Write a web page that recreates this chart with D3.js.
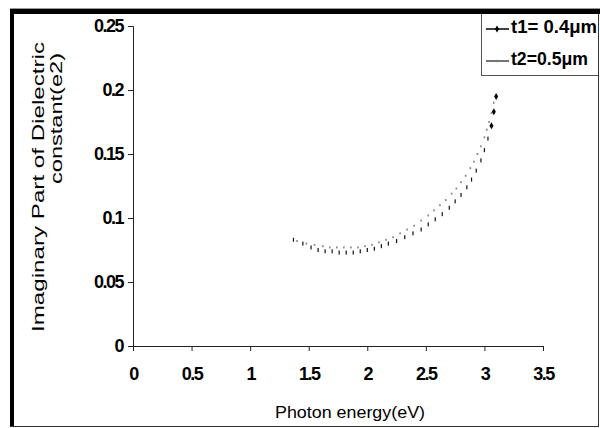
<!DOCTYPE html>
<html>
<head>
<meta charset="utf-8">
<script src="https://cdn.jsdelivr.net/npm/d3@7"></script>
<style>
    body { margin: 0; background: #fff; }
    svg { display: block; }
    .tick text { font-family: 'Liberation Sans', Arial, sans-serif; font-weight: bold; font-size: 18px; letter-spacing: -1.5px; fill: #000; }
</style>
</head>
<body>
<div id="chart"></div>
<script>
// photon energy (eV) and e2 values
const t1Energy = [1.37, 1.45, 1.52, 1.58, 1.64, 1.70, 1.76, 1.82, 1.88, 1.94, 2.00, 2.06, 2.12, 2.18, 2.25, 2.32, 2.39, 2.46, 2.52, 2.58, 2.64, 2.70, 2.75, 2.80, 2.85, 2.89, 2.93, 2.97, 3.00, 3.03, 3.06, 3.08, 3.10]
const t1Values = [0.083, 0.080, 0.077, 0.075, 0.074, 0.074, 0.073, 0.073, 0.073, 0.074, 0.075, 0.076, 0.078, 0.080, 0.082, 0.085, 0.088, 0.091, 0.095, 0.099, 0.103, 0.108, 0.113, 0.118, 0.124, 0.130, 0.137, 0.145, 0.153, 0.162, 0.172, 0.183, 0.195]

const t2Energy = [1.40, 1.48, 1.55, 1.62, 1.68, 1.74, 1.80, 1.86, 1.92, 1.98, 2.04, 2.10, 2.16, 2.22, 2.28, 2.34, 2.40, 2.46, 2.52, 2.57, 2.62, 2.67, 2.72, 2.76, 2.80, 2.84, 2.88, 2.91, 2.94, 2.97, 3.00, 3.02, 3.04, 3.06, 3.08]
const t2Values = [0.082, 0.080, 0.079, 0.078, 0.077, 0.077, 0.077, 0.077, 0.077, 0.078, 0.079, 0.081, 0.083, 0.085, 0.088, 0.091, 0.094, 0.098, 0.102, 0.106, 0.110, 0.114, 0.119, 0.123, 0.128, 0.133, 0.139, 0.144, 0.150, 0.156, 0.163, 0.169, 0.175, 0.182, 0.190]

const xTicks = [0, 0.5, 1, 1.5, 2, 2.5, 3, 3.5]
const yTicks = [0, 0.05, 0.1, 0.15, 0.2, 0.25]
const seriesNames = ['t1= 0.4\u03bcm', 't2=0.5\u03bcm']

const width = 600
const height = 428
const margin = { top: 26, right: 57, bottom: 82, left: 133 }
const font = "'Liberation Sans', Arial, sans-serif"

const svg = d3.select('#chart')
    .append('svg')
    .attr('width', width)
    .attr('height', height)

// outer frame
svg.append('line').attr('x1', 10).attr('x2', 600).attr('y1', 8.5).attr('y2', 8.5)
    .attr('stroke', '#999').attr('stroke-width', 1)
svg.append('line').attr('x1', 10).attr('x2', 600).attr('y1', 11.5).attr('y2', 11.5)
    .attr('stroke', '#000').attr('stroke-width', 5)
svg.append('line').attr('x1', 12).attr('x2', 12).attr('y1', 9).attr('y2', 427)
    .attr('stroke', '#000').attr('stroke-width', 4)
svg.append('line').attr('x1', 598.5).attr('x2', 598.5).attr('y1', 14).attr('y2', 427)
    .attr('stroke', '#333').attr('stroke-width', 1)
svg.append('line').attr('x1', 10).attr('x2', 599).attr('y1', 426.5).attr('y2', 426.5)
    .attr('stroke', '#333').attr('stroke-width', 1)

// scales
const x = d3.scaleLinear().domain([0, 3.5]).range([margin.left, width - margin.right])
const y = d3.scaleLinear().domain([0, 0.25]).range([height - margin.bottom, margin.top])

// axes
const xAxis = d3.axisBottom(x).tickValues(xTicks).tickSize(5).tickPadding(16)
    .tickFormat(d3.format('~g'))
const yAxis = d3.axisLeft(y).tickValues(yTicks).tickSize(5).tickPadding(5)
    .tickFormat(d3.format('~g'))

svg.append('g')
    .attr('transform', `translate(0,${y(0)})`)
    .call(xAxis)
    .call((g) => g.selectAll('path, line').attr('stroke', '#222'))

svg.append('g')
    .attr('transform', `translate(${x(0)},0)`)
    .call(yAxis)
    .call((g) => g.selectAll('path, line').attr('stroke', '#222'))

// axis titles (the picture is stretched, so fit text to its measured length)
svg.append('text')
    .attr('x', 275)
    .attr('y', 418)
    .attr('textLength', 150)
    .attr('lengthAdjust', 'spacingAndGlyphs')
    .style('font-family', font)
    .style('font-size', '17px')
    .text('Photon energy(eV)')

const yTitle = svg.append('g').attr('transform', 'rotate(-90)')
    .style('font-family', font)
    .style('font-size', '16px')
yTitle.append('text')
    .attr('x', -332).attr('y', 44)
    .attr('textLength', 290)
    .attr('lengthAdjust', 'spacingAndGlyphs')
    .text('Imaginary Part of Dielectric')
yTitle.append('text')
    .attr('x', -184).attr('y', 62)
    .attr('textLength', 131)
    .attr('lengthAdjust', 'spacingAndGlyphs')
    .text('constant(e2)')

// data points
const t1 = t1Energy.map((e, i) => ({ e, v: t1Values[i] }))
const t2 = t2Energy.map((e, i) => ({ e, v: t2Values[i] }))

svg.append('g')
    .selectAll('rect')
    .data(t2)
    .enter()
    .append('rect')
    .attr('x', (d) => x(d.e) - 0.8)
    .attr('y', (d) => y(d.v) - 1)
    .attr('width', 1.6)
    .attr('height', 2)
    .attr('fill', '#888')

svg.append('g')
    .selectAll('rect')
    .data(t1)
    .enter()
    .append('rect')
    .attr('x', (d) => x(d.e) - 0.6)
    .attr('y', (d) => y(d.v) - 2)
    .attr('width', 1.2)
    .attr('height', 4)
    .attr('fill', '#111')

// black diamond markers at the top end
const diamond = d3.symbol().type(d3.symbolDiamond).size(14)
svg.append('g')
    .selectAll('path')
    .data(t1.slice(-3))
    .enter()
    .append('path')
    .attr('d', diamond)
    .attr('transform', (d) => `translate(${x(d.e)},${y(d.v)})`)
    .attr('fill', '#000')

// legend
const legend = svg.append('g')
legend.append('line').attr('x1', 481.5).attr('x2', 481.5).attr('y1', 14).attr('y2', 75)
    .attr('stroke', '#555')
legend.append('line').attr('x1', 481).attr('x2', 598).attr('y1', 75.5).attr('y2', 75.5)
    .attr('stroke', '#555')

const legendWidths = [86, 77]
seriesNames.forEach((name, i) => {
    const ly = 29 + i * 32
    legend.append('line')
        .attr('x1', 486).attr('x2', 509).attr('y1', ly).attr('y2', ly)
        .attr('stroke', i === 0 ? '#000' : '#444').attr('stroke-width', 1.5)
    legend.append('path')
        .attr('d', d3.symbol().type(i === 0 ? d3.symbolDiamond : d3.symbolSquare).size(i === 0 ? 14 : 5))
        .attr('transform', `translate(497,${ly})`)
        .attr('fill', i === 0 ? '#000' : '#777')
    legend.append('text')
        .attr('x', 511)
        .attr('y', ly + 4)
        .attr('textLength', legendWidths[i])
        .attr('lengthAdjust', 'spacingAndGlyphs')
        .style('font-family', font)
        .style('font-weight', 'bold')
        .style('font-size', '18px')
        .text(name)
})
</script>
</body>
</html>
